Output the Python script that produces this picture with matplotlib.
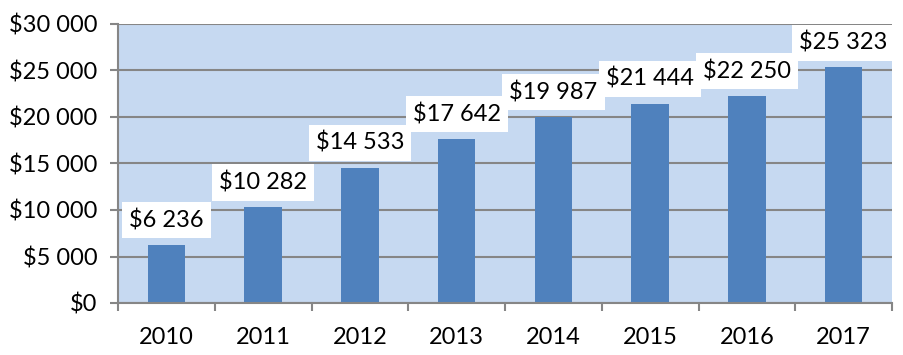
import numpy as np
import matplotlib
matplotlib.use("Agg")
import matplotlib.pyplot as plt
from matplotlib.ticker import FuncFormatter, MultipleLocator

plt.rcParams['font.family'] = ['Lato', 'DejaVu Sans']

years = ['2010', '2011', '2012', '2013', '2014', '2015', '2016', '2017']
values = [6236, 10282, 14533, 17642, 19987, 21444, 22250, 25323]

def money(v, pos=None):
    return '$' + f'{int(v):,}'.replace(',', ' ')

fig = plt.figure(figsize=(9.04, 3.55), dpi=100)
ax = fig.add_axes([118 / 904, 1 - 303 / 355, 774 / 904, 279 / 355])
ax.set_facecolor('#C6D9F1')

x = np.arange(len(years))
ax.bar(x, values, width=0.39, color='#4F81BD', zorder=3)

ax.set_xlim(-0.5, len(years) - 0.5)
ax.set_ylim(0, 30000)
ax.yaxis.set_major_locator(MultipleLocator(5000))
ax.yaxis.set_major_formatter(FuncFormatter(money))
ax.grid(axis='y', color='#868686', linewidth=1.5, zorder=1)

ax.set_xticks(x)
ax.set_xticklabels(years)
ax.set_xticks(np.arange(-0.5, len(years)), minor=True)
ax.tick_params(axis='x', which='major', length=0, pad=17, labelsize=17)
ax.tick_params(axis='x', which='minor', length=6, width=1.5, color='#868686')
ax.tick_params(axis='y', length=6, width=1.5, color='#868686', pad=9, labelsize=17)

for s in ['top', 'right']:
    ax.spines[s].set_visible(False)
for s in ['left', 'bottom']:
    ax.spines[s].set_color('#868686')
    ax.spines[s].set_linewidth(1.5)
    ax.spines[s].set_zorder(4)

for xi, v in zip(x, values):
    ax.annotate(money(v), (xi, v), xytext=(0, 10), textcoords='offset points',
                ha='center', va='bottom', fontsize=17, zorder=5,
                bbox=dict(boxstyle='square,pad=0.3', facecolor='white', edgecolor='none'),
                annotation_clip=False)

fig.savefig('out.png', dpi=100)
